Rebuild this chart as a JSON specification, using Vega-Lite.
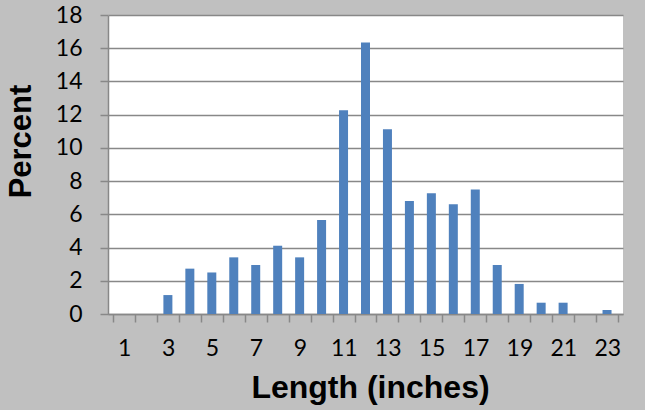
{
  "$schema": "https://vega.github.io/schema/vega-lite/v6.json",
  "width": 515,
  "height": 299,
  "autosize": "none",
  "padding": {"left": 108, "top": 15, "right": 22, "bottom": 96},
  "background": "#c0c0c0",
  "config": {"view": {"fill": "white", "stroke": null}},
  "data": {
    "values": [
      {"length": 1, "percent": 0},
      {"length": 2, "percent": 0},
      {"length": 3, "percent": 1.14},
      {"length": 4, "percent": 2.73},
      {"length": 5, "percent": 2.5},
      {"length": 6, "percent": 3.41},
      {"length": 7, "percent": 2.95},
      {"length": 8, "percent": 4.11},
      {"length": 9, "percent": 3.41},
      {"length": 10, "percent": 5.66},
      {"length": 11, "percent": 12.27},
      {"length": 12, "percent": 16.34},
      {"length": 13, "percent": 11.12},
      {"length": 14, "percent": 6.8},
      {"length": 15, "percent": 7.27},
      {"length": 16, "percent": 6.6},
      {"length": 17, "percent": 7.49},
      {"length": 18, "percent": 2.95},
      {"length": 19, "percent": 1.81},
      {"length": 20, "percent": 0.68},
      {"length": 21, "percent": 0.68},
      {"length": 22, "percent": 0},
      {"length": 23, "percent": 0.24}
    ]
  },
  "mark": {"type": "bar", "color": "#4f81bd", "width": 9},
  "encoding": {
    "x": {
      "field": "length",
      "type": "quantitative",
      "scale": {"domain": [0.5, 23.5], "nice": false, "zero": false},
      "axis": {
        "values": [0.5, 1.5, 2.5, 3.5, 4.5, 5.5, 6.5, 7.5, 8.5, 9.5, 10.5, 11.5, 12.5, 13.5, 14.5, 15.5, 16.5, 17.5, 18.5, 19.5, 20.5, 21.5, 22.5, 23.5],
        "labelExpr": "(datum.value + 0.5) % 2 == 1 ? format(datum.value + 0.5, 'd') : ''",
        "labelOffset": 11.2,
        "labelOverlap": false,
        "labelBound": false,
        "labelFlush": false,
        "grid": false,
        "tickSize": 8,
        "tickColor": "#888888",
        "tickWidth": 1.5,
        "domainColor": "#888888",
        "domainWidth": 1.5,
        "labelFont": "Lato",
        "labelFontSize": 23,
        "labelColor": "black",
        "labelBaseline": "alphabetic",
        "labelPadding": 33,
        "title": "Length (inches)",
        "titleFont": "Liberation Sans",
        "titleFontSize": 32,
        "titleFontWeight": "bold",
        "titleColor": "black",
        "titleBaseline": "alphabetic",
        "titleAlign": "center",
        "titleX": 262,
        "titleY": 83
      }
    },
    "y": {
      "field": "percent",
      "type": "quantitative",
      "scale": {"domain": [0, 18], "nice": false},
      "axis": {
        "values": [0, 2, 4, 6, 8, 10, 12, 14, 16, 18],
        "grid": true,
        "gridColor": "#888888",
        "gridWidth": 1.5,
        "tickSize": 8,
        "tickColor": "#888888",
        "tickWidth": 1.5,
        "domainColor": "#888888",
        "domainWidth": 1.5,
        "labelFont": "Lato",
        "labelFontSize": 23,
        "labelColor": "black",
        "labelPadding": 18,
        "title": "Percent",
        "titleFont": "Liberation Sans",
        "titleFontSize": 31,
        "titleFontWeight": "bold",
        "titleColor": "black",
        "titleAngle": 270,
        "titleBaseline": "alphabetic",
        "titleAlign": "center",
        "titleX": -78,
        "titleY": 126
      }
    }
  }
}
